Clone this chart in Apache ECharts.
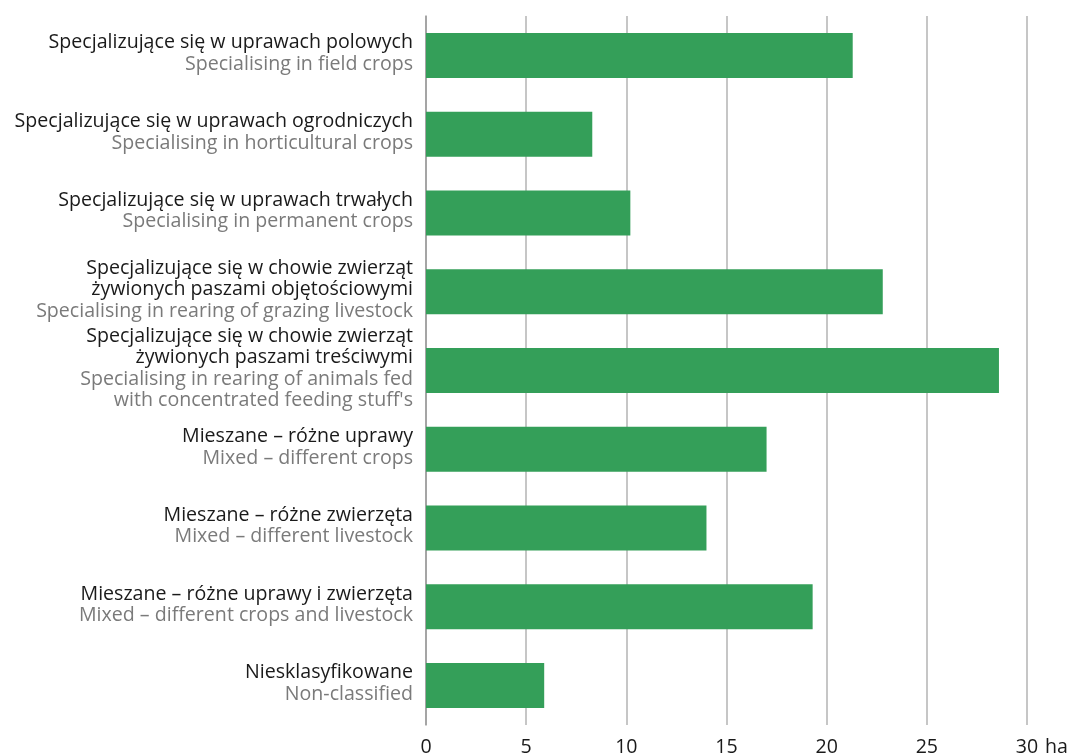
<!DOCTYPE html>
<html>
<head>
<meta charset="utf-8">
<script src="https://cdn.jsdelivr.net/npm/echarts@6/dist/echarts.min.js"></script>
<style>
  html, body { margin: 0; padding: 0; background: #ffffff; }
  #chart { width: 1067px; height: 753px; }
</style>
</head>
<body>
<div id="chart"></div>
<script>
// Polish category names (each entry = lines of the label)
const plLabels = [
  ['Specjalizujące się w uprawach polowych'],
  ['Specjalizujące się w uprawach ogrodniczych'],
  ['Specjalizujące się w uprawach trwałych'],
  ['Specjalizujące się w chowie zwierząt', 'żywionych paszami objętościowymi'],
  ['Specjalizujące się w chowie zwierząt', 'żywionych paszami treściwymi'],
  ['Mieszane – różne uprawy'],
  ['Mieszane – różne zwierzęta'],
  ['Mieszane – różne uprawy i zwierzęta'],
  ['Niesklasyfikowane']
];

// English translations shown underneath
const enLabels = [
  ['Specialising in field crops'],
  ['Specialising in horticultural crops'],
  ['Specialising in permanent crops'],
  ['Specialising in rearing of grazing livestock'],
  ['Specialising in rearing of animals fed', "with concentrated feeding stuff's"],
  ['Mixed – different crops'],
  ['Mixed – different livestock'],
  ['Mixed – different crops and livestock'],
  ['Non-classified']
];

// Average area per farm type, ha
const values = [21.3, 8.3, 10.2, 22.8, 28.6, 17.0, 14.0, 19.3, 5.9];

// Value axis ticks
const xTicks = [0, 5, 10, 15, 20, 25, 30];
const xUnit = 'ha';

const FONT = '"Open Sans", "Noto Sans", sans-serif';
const FS = 19.6;
const categories = plLabels.map((_, i) => String(i));

function buildLabel(idx) {
  const i = Number(idx);
  const pl = plLabels[i].map(l => '{pl|' + l + '}');
  const en = enLabels[i].map(l => '{en|' + l + '}');
  return pl.concat(en).join('\n');
}

const chart = echarts.init(document.getElementById('chart'), null, { renderer: 'canvas' });

chart.setOption({
  backgroundColor: '#ffffff',
  animation: false,
  grid: {
    left: 426, right: 40, top: 16, bottom: 28,
    containLabel: false,
    outerBoundsMode: 'none'
  },
  xAxis: {
    type: 'value',
    min: xTicks[0],
    max: xTicks[xTicks.length - 1],
    interval: xTicks[1] - xTicks[0],
    name: xUnit,
    nameLocation: 'end',
    nameGap: 18,
    nameTextStyle: {
      fontFamily: FONT, fontSize: FS, color: '#1a1a1a',
      verticalAlign: 'top', padding: [12, 0, 0, 0]
    },
    axisLine: { show: false },
    axisTick: { show: false },
    axisLabel: {
      fontFamily: FONT, fontSize: FS, color: '#1a1a1a', margin: 12
    },
    splitLine: { show: true, lineStyle: { color: '#b3b3b3', width: 1.5 } }
  },
  yAxis: {
    type: 'category',
    inverse: true,
    data: categories,
    axisLine: { show: true, lineStyle: { color: '#9a9a9a', width: 1.5 } },
    axisTick: { show: false },
    axisLabel: {
      margin: 13,
      align: 'right',
      padding: [0, 0, 4, 0],
      formatter: buildLabel,
      rich: {
        pl: { fontFamily: FONT, fontSize: FS, color: '#1a1a1a', lineHeight: 21.5, align: 'right' },
        en: { fontFamily: FONT, fontSize: FS, color: '#7a7a7a', lineHeight: 21.5, align: 'right' }
      }
    }
  },
  series: [{
    type: 'bar',
    data: values,
    barWidth: 45,
    itemStyle: { color: '#349f59' },
    silent: true
  }]
});
</script>
</body>
</html>
